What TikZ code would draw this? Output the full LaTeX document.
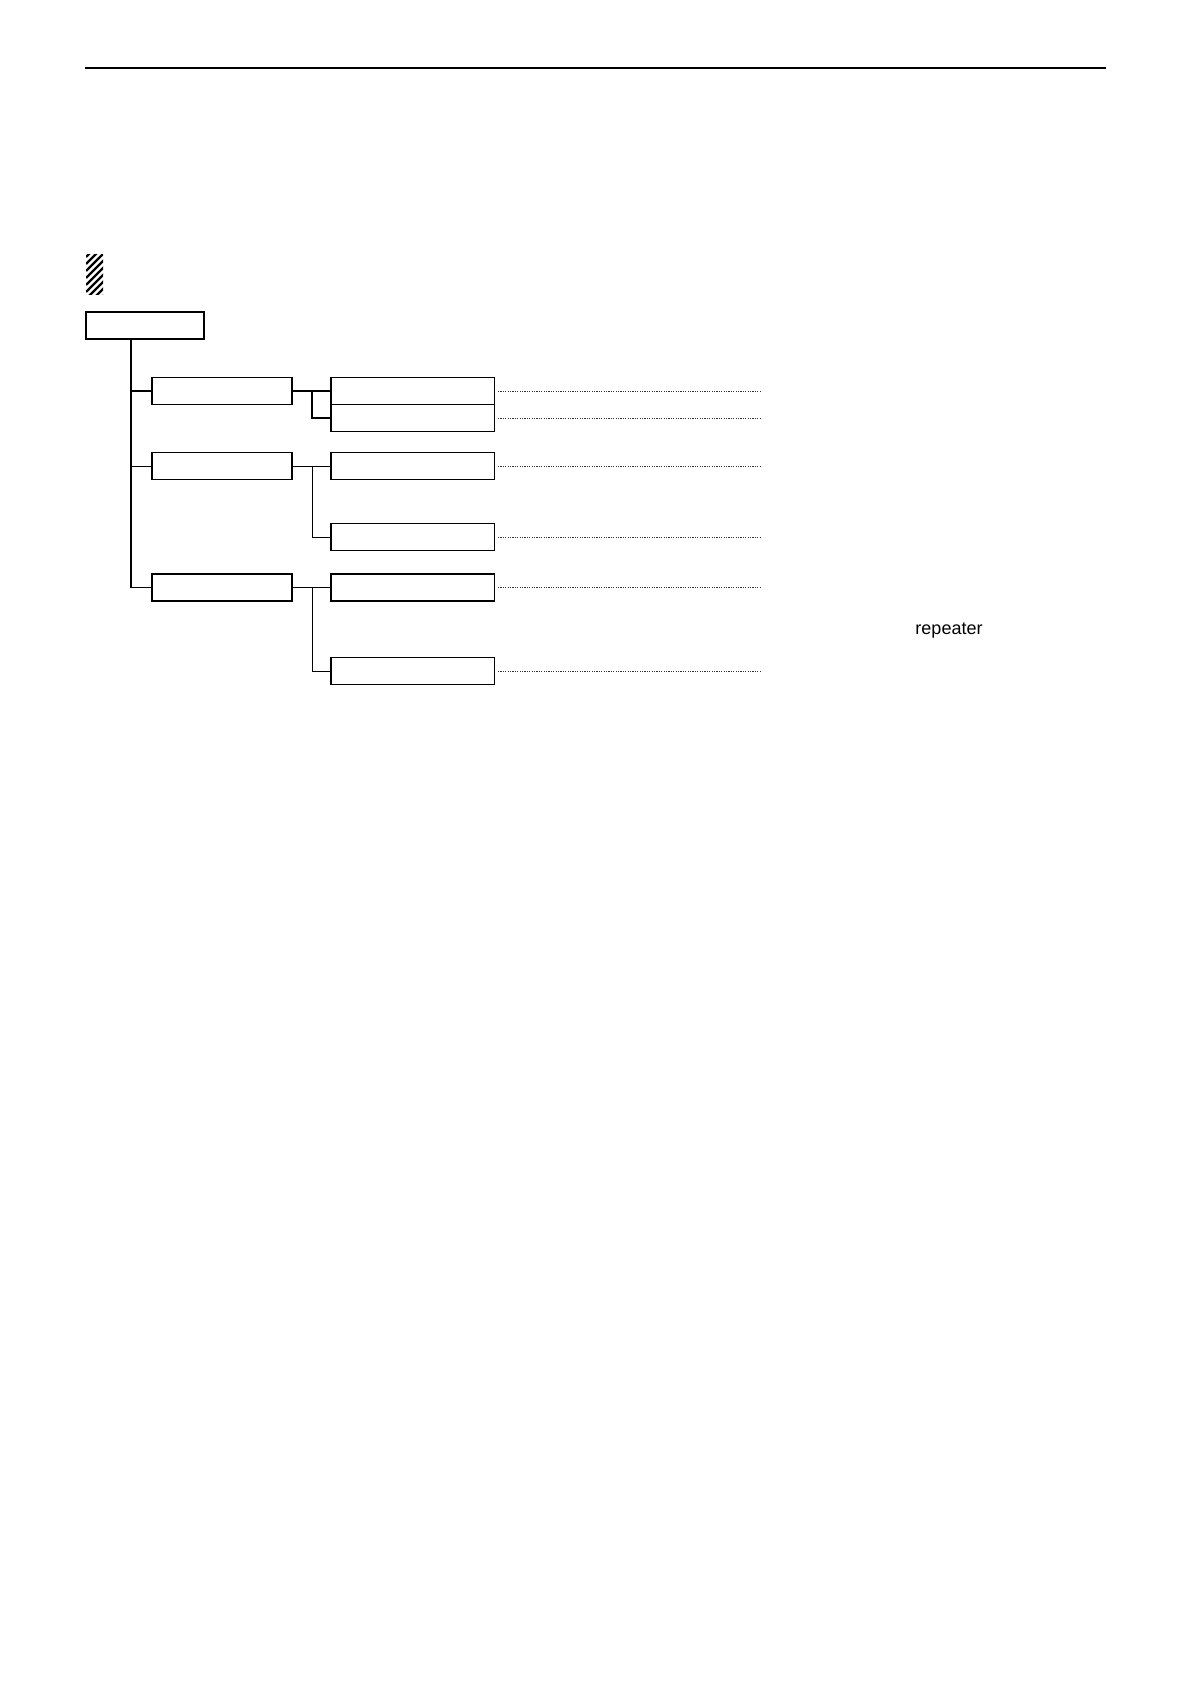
\documentclass[tikz,border=0pt]{standalone}
\usepackage{fontspec}
\setmainfont{Liberation Sans}

\begin{document}
\begin{tikzpicture}[x=0.5pt,y=-0.5pt,
  rootbox/.style={draw,line width=0.75pt,inner sep=0pt,minimum width=59pt,minimum height=13.5pt},
  itembox/.style={draw,line width=0.75pt,inner sep=0pt,minimum width=70pt,minimum height=13.3pt},
  subbox/.style={draw,line width=0.75pt,inner sep=0pt,minimum width=81.7pt,minimum height=13.3pt},
  trunkline/.style={line width=0.85pt},
  branchline/.style={line width=0.5pt},
  leader/.style={line width=0.45pt,dash pattern=on 0.6pt off 0.6pt,black!80}]
  \useasboundingbox (0,0) rectangle (1191,1684);
  % Rule at the top
  \draw[line width=1.2pt] (85,68) -- (1106,68);
  % Hatched marker
  \begin{scope}
    \clip (86,255) rectangle (103,295);
    \foreach \i in {0,...,10}
      \draw[line width=1.15pt] (86,257+7*\i) -- ++(45,-45);
  \end{scope}
  % Boxes
  \node[rootbox] (root) at (145,325.5) {};
  \node[itembox] (m1) at (222,391) {};
  \node[itembox] (m2) at (222,466) {};
  \node[itembox] (m3) at (222,587.5) {};
  \node[subbox] (s1) at (412.6,391) {};
  \node[subbox] (s2) at (412.6,418) {};
  \node[subbox] (s3) at (412.6,466) {};
  \node[subbox] (s4) at (412.6,537) {};
  \node[subbox] (s5) at (412.6,587.5) {};
  \node[subbox] (s6) at (412.6,671) {};
  % Tree lines
  \coordinate (tr) at (131,0);
  \coordinate (br) at (312,0);
  \coordinate (lend) at (760,0);
  \draw[trunkline] (tr |- root.south) -- (tr |- m3.west) -- (m3.west);
  \draw[trunkline] (tr |- m1.west) -- (m1.west);
  \draw[branchline] (tr |- m2.west) -- (m2.west);
  \draw[trunkline] (m1.east) -- (s1.west);
  \draw[trunkline] (br |- m1.east) |- (s2.west);
  \draw[branchline] (m2.east) -- (s3.west);
  \draw[branchline] (br |- m2.east) |- (s4.west);
  \draw[branchline] (m3.east) -- (s5.west);
  \draw[branchline] (br |- m3.east) |- (s6.west);
  % Dotted leaders
  \foreach \s in {s1,s2,s3,s4,s5,s6}
    \draw[leader] ([xshift=1.5pt]\s.east) -- (lend |- \s.east);
  % Label
  \node[anchor=base,font=\fontsize{9}{11}\selectfont,inner sep=0pt] (rep) at (949,634) {repeater};
\end{tikzpicture}
\end{document}
